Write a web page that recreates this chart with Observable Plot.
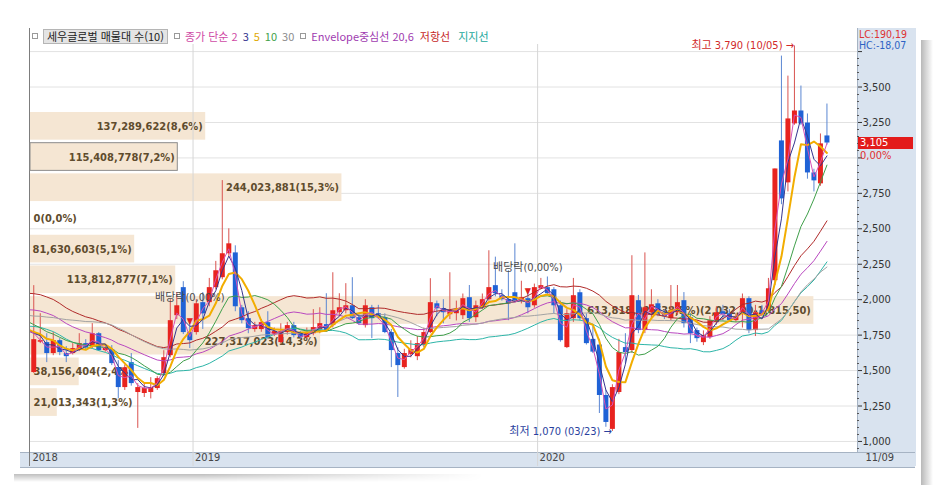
<!DOCTYPE html>
<html lang="ko">
<head>
<meta charset="utf-8">
<title>세우글로벌 주봉</title>
<script src="https://cdn.jsdelivr.net/npm/d3@7"></script>
<script src="https://cdn.jsdelivr.net/npm/@observablehq/plot@0.6"></script>
<style>
html,body{margin:0;padding:0;background:#fff;}
#wrap{position:relative;width:948px;height:495px;overflow:hidden;background:#fff;
  font-family:"Liberation Sans Narrow","DejaVu Sans Condensed","Noto Sans CJK KR",sans-serif;}
#wrap svg{position:absolute;left:0;top:0;overflow:visible;}
.abs{position:absolute;white-space:nowrap;line-height:1;}
.kr{font-family:"Noto Sans CJK KR","DejaVu Sans",sans-serif;}
.sq{display:inline-block;width:4px;height:4px;border:1px solid #9a9a9a;background:#fff;margin:0 5px 1px 0;vertical-align:middle;}
</style>
</head>
<body>
<div id="wrap"></div>
<script>
// ---------------- data (weekly candles, 2018-07-09 … 2020-11-09) ----------------
const firstWeek = "2018-07-09";
const opens = [1486,1700,1697,1620,1711,1620,1620,1641,1690,1669,
1760,1641,1648,1521,1380,1556,1345,1338,1345,1373,
1479,1605,1887,2085,1768,1768,1979,1979,2085,2155,
2324,2330,1943,1866,1789,1789,1838,1753,1697,1768,
1817,1760,1732,1760,1789,1824,1817,1908,1922,1957,
1873,1817,1943,1901,1873,1768,1620,1521,1612,1598,
1676,1768,1971,1936,1894,1901,1887,2014,1873,1943,
2000,2099,2028,2000,2049,1993,2007,1957,2077,2085,
2070,1957,1662,1866,2049,1866,1720,1680,1324,1085,
1345,1662,1641,1993,1782,1908,1971,1901,1866,1908,
1993,1873,1782,1697,1732,1838,1915,1901,1852,1908,
2007,1782,1922,1922,2134,3120,2824,3240,3331,3246,
2894,2817,3155];
const highs = [2099,1901,1760,1768,1725,1669,1690,1760,1718,1831,
1768,1680,1676,1570,1540,1620,1408,1408,1450,1457,
1640,2000,2050,2127,1852,2000,2050,2150,2270,2840,
2500,2380,1960,1915,1840,1860,1915,1800,1830,1840,
1840,1775,1800,1930,1943,2042,2190,2042,2113,2155,
1900,2000,1960,1960,1900,1790,1660,1650,1710,1740,
1800,2148,1990,2000,2190,1990,2040,2100,1990,2040,
2345,2300,2070,2204,2394,2130,2050,2110,2150,2160,
2085,1990,1930,2150,2070,1900,1810,1720,1360,1400,
1720,1760,2310,2030,2330,2070,2000,1930,2100,2100,
2050,1900,1800,1780,1880,1950,1960,1930,1900,2040,
2020,1960,1960,2150,2922,3718,3577,3790,3507,3310,
2920,3169,3380];
const lows = [1480,1690,1556,1605,1605,1556,1610,1634,1641,1655,
1634,1630,1535,1300,1360,1390,1092,1310,1300,1360,
1460,1590,1860,1754,1655,1750,1790,1950,2070,2140,
2300,1915,1830,1760,1770,1770,1720,1740,1690,1750,
1730,1720,1720,1745,1760,1770,1800,1880,1900,1860,
1820,1800,1725,1860,1760,1521,1310,1510,1590,1570,
1660,1760,1880,1830,1860,1850,1860,1840,1840,1930,
1990,2020,1990,1852,1980,1970,1900,1940,2070,2030,
1900,1700,1655,1840,1850,1680,1620,1197,1100,1070,
1330,1550,1620,1760,1760,1860,1880,1860,1850,1890,
1800,1690,1700,1676,1720,1820,1850,1840,1840,1800,
1760,1740,1880,1910,2100,2670,2760,3230,3230,2850,
2760,2800,3090];
const closes = [1718,1711,1620,1711,1627,1598,1655,1690,1662,1760,
1641,1662,1549,1380,1520,1408,1380,1373,1380,1443,
1591,1852,1957,1768,1711,1971,1900,2085,2204,2324,
2394,1950,1852,1796,1817,1838,1732,1775,1775,1817,
1746,1732,1768,1803,1831,1782,1922,1943,1957,1866,
1831,1957,1866,1873,1768,1641,1535,1620,1648,1690,
1768,1979,1936,1908,1922,1922,2007,1866,1957,2000,
2085,2042,2000,1971,1993,2014,1943,2085,2099,2042,
1957,1711,1901,2028,1866,1690,1630,1324,1134,1380,
1627,1627,2028,1782,1943,1964,1901,1880,1922,1979,
1831,1760,1725,1746,1852,1908,1895,1852,1880,2007,
1782,1908,1901,2077,2922,2711,3275,3331,3240,2894,
2838,3099,3105];
// closes of the weeks just before the first candle (not drawn; they only feed the averages),
// estimated from where the averages start at the left edge
const priorCloses = [1760,1790,1820,1850,1800,1780,1810,1830,1790,1770,
1850,1920,2050,2150,2200,2120,2060,2010,1980,1960,
1930,1900,1880,1850,1820,1790,1780,1760,1810];

// moving averages (closing price, simple) and envelope (20 weeks, 6%)
const maSpecs = [
  {k: 30, color: "#a3a3a3", width: 1},
  {k: 10, color: "#3f9f4a", width: 1},
  {k: 5,  color: "#f2ad00", width: 2},
  {k: 3,  color: "#35358f", width: 1},
  {k: 2,  color: "#d750b4", width: 1}
];
const envelope = {k: 20, pct: 6, center: "#b948c0", upper: "#b02a2a", lower: "#2db5a8"};

// volume profile (매물대, 10 bands of closing price)
const profileEdges = [1166,1382.5,1599,1815.5,2032,2248.5,2465,2681.5,2898,3114.5,3331];
const profileVolumes = [21013343,38156404,227317023,613818926,113812877,81630603,0,244023881,115408778,137289622];
const profileFullScale = 648e6;

// axis ticks and labels
const yMajor = [1000,1250,1500,1750,2000,2250,2500,2750,3000,3250,3500,3750];
const yCovered = [3000, 3750]; // labels hidden under the LC/HC and change boxes
const yMinorStep = 50;
const yearTicks = [{week: 0, label: "2018"}, {week: 25, label: "2019"}, {week: 78, label: "2020"}];
const lastLabel = "11/09";
const exDividend = [{week: 24, price: 1850, label: "배당락(0,00%)"}, {week: 76, price: 2062, label: "배당락(0,00%)"}];
const legendTitle = "세우글로벌 매물대 수(10)";

// ---------------- layout ----------------
const W = 948, H = 495;
const M = {top: 44, right: 91, bottom: 43, left: 30};
const yDomain = [922, 3800];
const xDomain = [-0.5, 126.7];
const numFont = '"Liberation Sans Narrow","DejaVu Sans Condensed","Noto Sans CJK KR",sans-serif';
const upColor = "#e8231f", downColor = "#1f62d6";
const upWick = "#d9534f", downWick = "#5a86d2";
const kfmt = d3.format(",");
const comma = s => String(s).replace(".", ",");

const wrap = document.getElementById("wrap");
function addDiv(style, html, cls) {
  const d = document.createElement("div");
  d.className = "abs" + (cls ? " " + cls : "");
  Object.assign(d.style, style);
  if (html != null) d.innerHTML = html;
  wrap.appendChild(d);
  return d;
}

// page shadow and panels behind the plots
addDiv({left: "921px", top: "40px", width: "12px", height: "445px", background: "linear-gradient(to right, rgba(0,0,0,0.28), rgba(0,0,0,0))"});
addDiv({left: "14px", top: "474px", width: "470px", height: "8px", background: "linear-gradient(to bottom, rgba(0,0,0,0.25), rgba(0,0,0,0))", WebkitMaskImage: "linear-gradient(to right, #000 40%, transparent)"});
addDiv({left: "857px", top: "28px", width: "58px", height: "438px", background: "#d9e3ef", borderLeft: "1px solid #a6b3c3"});
addDiv({left: "20px", top: "452px", width: "895px", height: "14px", background: "#d9e3ef", borderTop: "1px solid #a6b3c3", borderBottom: "1px solid #a6b3c3"});
addDiv({left: "29px", top: "28px", width: "1px", height: "438px", background: "#7d7d7d"});

// ---------------- plot 1: grid + volume profile ----------------
const total = d3.sum(profileVolumes);
const priceFmt = v => comma(v.toFixed(2)).replace(/^(\d)(\d{3})/, "$1,$2");
const profile = profileVolumes.map((v, k) => ({
  low: profileEdges[k], high: profileEdges[k + 1], volume: v,
  label: kfmt(v) + "(" + comma((v / total * 100).toFixed(1)) + "%)" +
    (v === d3.max(profileVolumes) ? "(" + priceFmt(profileEdges[k + 1]) + "-" + priceFmt(profileEdges[k]) + ")" : "")
}));
const lastClose = closes[closes.length - 1];
profile.forEach(d => { d.current = lastClose >= d.low && lastClose < d.high; d.mid = (d.low + d.high) / 2; });
const pxPerVol = (W - M.left - M.right) / profileFullScale;
const estWidth = d => d.label.length * 6.1 + 6;
const wide = profile.filter(d => d.volume * pxPerVol >= estWidth(d));
const narrow = profile.filter(d => d.volume * pxPerVol < estWidth(d));

const plot1 = Plot.plot({
  width: W, height: H,
  marginTop: M.top, marginRight: M.right, marginBottom: M.bottom, marginLeft: M.left,
  x: {domain: [0, profileFullScale], axis: null},
  y: {domain: yDomain, axis: null},
  style: {background: "transparent", fontFamily: numFont},
  marks: [
    Plot.ruleY(yMajor, {stroke: "#e2e2e2"}),
    Plot.rect(profile.filter(d => d.volume > 0), {x1: 0, x2: "volume", y1: "low", y2: "high", fill: "#f5e6d3", insetTop: 1.5, insetBottom: 1.5}),
    Plot.rect(profile.filter(d => d.current), {x1: 0, x2: "volume", y1: "low", y2: "high", fill: "none", stroke: "#8c8c8c", insetTop: 1.5, insetBottom: 1.5}),
    Plot.text(wide, {x: "volume", y: "mid", text: "label", textAnchor: "end", dx: -3, fill: "#5f4c2d", fontWeight: "bold", fontSize: 11}),
    Plot.text(narrow, {x: 0, y: "mid", text: "label", textAnchor: "start", dx: 3, fill: "#5f4c2d", fontWeight: "bold", fontSize: 11})
  ]
});
wrap.appendChild(plot1);

// ---------------- plot 2: candles, averages, axes ----------------
const candles = closes.map((c, i) => ({i, open: opens[i], high: highs[i], low: lows[i], close: c, up: c >= opens[i]}));
const series = priorCloses.concat(closes).map((c, j) => ({x: j - priorCloses.length, close: c}));
const weekDate = i => d3.utcMonday.offset(new Date(firstWeek + "T00:00:00Z"), i);
const md = d3.utcFormat("%m/%d");
const hiIdx = d3.maxIndex(highs), loIdx = d3.minIndex(lows);
const extremes = [
  {i: hiIdx, v: highs[hiIdx], text: `최고 ${kfmt(highs[hiIdx])} (${md(weekDate(hiIdx))}) →`, color: "#d12a2a", dy: 4},
  {i: loIdx, v: lows[loIdx], text: `최저 ${kfmt(lows[loIdx])} (${md(weekDate(loIdx))}) →`, color: "#2a3f9e", dy: 0}
];

const maMarks = maSpecs.map(s => Plot.lineY(series, Plot.windowY({k: s.k, anchor: "end"}, {x: "x", y: "close", stroke: s.color, strokeWidth: s.width, clip: true})));
const envMarks = [
  {f: 1 + envelope.pct / 100, c: envelope.upper},
  {f: 1, c: envelope.center},
  {f: 1 - envelope.pct / 100, c: envelope.lower}
].map(e => Plot.lineY(series, Plot.windowY({k: envelope.k, anchor: "end", reduce: v => d3.mean(v) * e.f}, {x: "x", y: "close", stroke: e.c, strokeWidth: 1, clip: true})));

const plot2 = Plot.plot({
  width: W, height: H,
  marginTop: M.top, marginRight: M.right, marginBottom: M.bottom, marginLeft: M.left,
  x: {domain: xDomain, axis: null},
  y: {domain: yDomain, axis: "right", ticks: yMajor, tickFormat: v => yCovered.includes(v) ? "" : kfmt(v), tickSize: 4, tickPadding: 1, label: null},
  style: {background: "transparent", fontFamily: numFont, fontSize: "11px", color: "#333", overflow: "visible"},
  marks: [
    Plot.ruleX(yearTicks.filter(d => d.week > 0), {x: d => d.week - 0.5, stroke: "#d6d6d6", insetBottom: -14}),
    Plot.ruleX(candles, {x: "i", y1: "low", y2: "high", stroke: d => d.up ? upWick : downWick, strokeWidth: 1}),
    Plot.ruleX(candles, {x: "i", y1: "open", y2: "close", stroke: d => d.up ? upColor : downColor, strokeWidth: 5}),
    ...envMarks,
    ...maMarks,
    Plot.text(extremes, {x: "i", y: "v", text: "text", fill: "color", textAnchor: "end", dx: -2, dy: "dy", fontSize: 11}),
    Plot.text(exDividend, {x: "week", y: "price", text: () => "▼", fill: "#e02020", fontSize: 9}),
    Plot.text(exDividend, {x: "week", y: "price", text: "label", fill: "#4a4a4a", dy: -23, fontSize: 11}),
    Plot.text(yearTicks, {x: d => d.week - 0.5, frameAnchor: "bottom", text: "label", textAnchor: "start", dx: 2, dy: 8, fill: "#444", fontSize: 11}),
    Plot.text([lastLabel], {frameAnchor: "bottom-right", text: d => d, textAnchor: "start", dx: 8, dy: 8, fill: "#444", fontSize: 11})
  ]
});
wrap.appendChild(plot2);

// minor ticks on the price axis (library y scale)
const yScale = plot2.scale("y");
const svg2 = d3.select(plot2.tagName.toLowerCase() === "svg" ? plot2 : plot2.querySelector("svg"));
const minor = d3.range(yDomain[0] - yDomain[0] % yMinorStep + yMinorStep, yDomain[1], yMinorStep).filter(v => v % 250 !== 0);
svg2.append("g").selectAll("line").data(minor).join("line")
  .attr("x1", W - M.right).attr("x2", W - M.right + 2)
  .attr("y1", v => Math.round(yScale.apply(v)) + 0.5).attr("y2", v => Math.round(yScale.apply(v)) + 0.5)
  .attr("stroke", "#555");

// ---------------- legend row ----------------
addDiv({left: "32px", top: "29px", fontSize: "11px", color: "#222", display: "flex", alignItems: "center"},
  `<span class="sq"></span><span class="kr" style="background:#e4e4e4;border:1px solid #b5b5b5;padding:1px 3px;">${legendTitle}</span>` +
  `<span class="sq" style="margin-left:6px"></span><span class="kr" style="color:#cf4aa5">종가 단순 ${maSpecs[4].k}</span>` +
  `<span class="kr" style="color:${maSpecs[3].color};margin-left:5px">${maSpecs[3].k}</span>` +
  `<span class="kr" style="color:#e0a800;margin-left:5px">${maSpecs[2].k}</span>` +
  `<span class="kr" style="color:${maSpecs[1].color};margin-left:5px">${maSpecs[1].k}</span>` +
  `<span class="kr" style="color:#8c8c8c;margin-left:5px">${maSpecs[0].k}</span>` +
  `<span class="sq" style="margin-left:6px"></span><span class="kr" style="color:#a03bb0">Envelope중심선 ${envelope.k},${envelope.pct}</span>` +
  `<span class="kr" style="color:#c62828;margin-left:6px">저항선</span>` +
  `<span class="kr" style="color:#22a89c;margin-left:8px">지지선</span>`, "kr");

// ---------------- right panel labels ----------------
const lowAll = d3.min(lows), highAll = d3.max(highs);
const lc = (lastClose - lowAll) / lowAll * 100, hc = (lastClose - highAll) / highAll * 100;
addDiv({left: "859px", top: "29px", height: "10px", fontSize: "10.5px", lineHeight: "10px", color: "#d33"}, "LC:" + comma(lc.toFixed(2)));
addDiv({left: "859px", top: "40px", height: "10px", fontSize: "10.5px", lineHeight: "10px", color: "#2d62c4"}, "HC:" + comma(hc.toFixed(2)));
const yLast = yScale.apply(lastClose);
addDiv({left: "858px", top: (yLast - 6) + "px", width: "55px", height: "12px", background: "#e31b1b", color: "#fff", fontSize: "11px", paddingLeft: "2px", boxSizing: "border-box", lineHeight: "12px"}, kfmt(lastClose));
addDiv({left: "858px", top: (yLast + 7) + "px", height: "11px", color: "#e03030", fontSize: "11px", paddingLeft: "2px", lineHeight: "11px"}, "0,00%");
</script>
</body>
</html>
